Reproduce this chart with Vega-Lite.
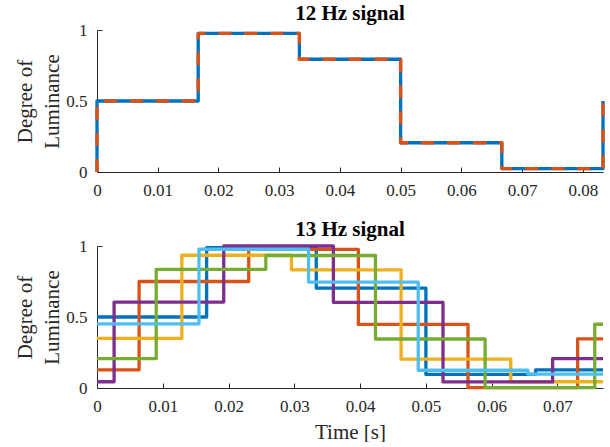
{
  "$schema": "https://vega.github.io/schema/vega-lite/v6.json",
  "padding": {"left": 14, "top": 3, "right": 5, "bottom": 0},
  "spacing": 21,
  "datasets": {
    "s12": [
      {"t": 0, "v": 0},
      {"t": 0, "v": 0.5},
      {"t": 0.016667, "v": 0.976},
      {"t": 0.033333, "v": 0.794},
      {"t": 0.05, "v": 0.206},
      {"t": 0.066667, "v": 0.024},
      {"t": 0.083333, "v": 0.5}
    ],
    "s13": [
      {"s": "A", "t": 0, "v": 0.5},
      {"s": "A", "t": 0.016667, "v": 0.989},
      {"s": "A", "t": 0.033333, "v": 0.703},
      {"s": "A", "t": 0.05, "v": 0.0955},
      {"s": "A", "t": 0.066667, "v": 0.128},
      {"s": "A", "t": 0.076923, "v": 0.128},
      {"s": "B", "t": 0, "v": 0.128},
      {"s": "B", "t": 0.0064, "v": 0.75},
      {"s": "B", "t": 0.023067, "v": 0.976},
      {"s": "B", "t": 0.039733, "v": 0.448},
      {"s": "B", "t": 0.0564, "v": 0.003},
      {"s": "B", "t": 0.073067, "v": 0.346},
      {"s": "B", "t": 0.076923, "v": 0.346},
      {"s": "C", "t": 0, "v": 0.349},
      {"s": "C", "t": 0.0129, "v": 0.935},
      {"s": "C", "t": 0.029567, "v": 0.832},
      {"s": "C", "t": 0.046233, "v": 0.204},
      {"s": "C", "t": 0.0629, "v": 0.044},
      {"s": "C", "t": 0.076923, "v": 0.044},
      {"s": "D", "t": 0, "v": 0.044},
      {"s": "D", "t": 0.0026, "v": 0.605},
      {"s": "D", "t": 0.019267, "v": 1.0},
      {"s": "D", "t": 0.035933, "v": 0.603},
      {"s": "D", "t": 0.0526, "v": 0.043},
      {"s": "D", "t": 0.069267, "v": 0.207},
      {"s": "D", "t": 0.076923, "v": 0.207},
      {"s": "E", "t": 0, "v": 0.207},
      {"s": "E", "t": 0.009, "v": 0.836},
      {"s": "E", "t": 0.025667, "v": 0.933},
      {"s": "E", "t": 0.042333, "v": 0.345},
      {"s": "E", "t": 0.059, "v": 0.003},
      {"s": "E", "t": 0.075667, "v": 0.449},
      {"s": "E", "t": 0.076923, "v": 0.449},
      {"s": "F", "t": 0, "v": 0.452},
      {"s": "F", "t": 0.0155, "v": 0.977},
      {"s": "F", "t": 0.032167, "v": 0.746},
      {"s": "F", "t": 0.048833, "v": 0.125},
      {"s": "F", "t": 0.0655, "v": 0.098},
      {"s": "F", "t": 0.076923, "v": 0.098}
    ]
  },
  "vconcat": [
    {
      "width": 506,
      "height": 142,
      "title": {"text": "12 Hz signal"},
      "data": {"name": "s12"},
      "encoding": {
        "x": {
          "field": "t", "type": "quantitative",
          "scale": {"domain": [0, 0.083333], "nice": false, "zero": false},
          "axis": {"title": null, "values": [0, 0.01, 0.02, 0.03, 0.04, 0.05, 0.06, 0.07, 0.08], "format": "~g"}
        },
        "y": {
          "field": "v", "type": "quantitative",
          "scale": {"domain": [0, 1], "nice": false},
          "axis": {"title": ["Degree of", "Luminance"], "values": [0, 0.5, 1], "format": "~g"}
        }
      },
      "layer": [
        {"mark": {"type": "line", "interpolate": "step-after", "color": "#0072BD", "strokeWidth": 3.3, "strokeJoin": "round"}},
        {"mark": {"type": "line", "interpolate": "step-after", "color": "#D95319", "strokeWidth": 3.3, "strokeDash": [13, 13], "strokeJoin": "round"}}
      ]
    },
    {
      "width": 506,
      "height": 142,
      "title": {"text": "13 Hz signal"},
      "data": {"name": "s13"},
      "mark": {"type": "line", "interpolate": "step-after", "strokeWidth": 3.3, "strokeJoin": "round"},
      "encoding": {
        "x": {
          "field": "t", "type": "quantitative",
          "scale": {"domain": [0, 0.076923], "nice": false, "zero": false},
          "axis": {"title": "Time [s]", "values": [0, 0.01, 0.02, 0.03, 0.04, 0.05, 0.06, 0.07], "format": "~g", "titlePadding": 7}
        },
        "y": {
          "field": "v", "type": "quantitative",
          "scale": {"domain": [0, 1], "nice": false},
          "axis": {"title": ["Degree of", "Luminance"], "values": [0, 0.5, 1], "format": "~g"}
        },
        "color": {
          "field": "s", "type": "nominal",
          "scale": {"domain": ["A", "B", "C", "D", "E", "F"], "range": ["#0072BD", "#D95319", "#EDB120", "#7E2F8E", "#77AC30", "#4DBEEE"]},
          "legend": null
        }
      }
    }
  ],
  "config": {
    "font": "Times New Roman, Liberation Serif, serif",
    "view": {"stroke": null},
    "title": {"font": "Times New Roman, Liberation Serif, serif", "fontSize": 21, "fontWeight": "bold", "color": "#000000", "baseline": "alphabetic", "offset": -3, "anchor": "middle", "frame": "group"},
    "axis": {
      "labelFont": "Times New Roman, Liberation Serif, serif",
      "titleFont": "Times New Roman, Liberation Serif, serif",
      "grid": false,
      "domainColor": "#262626",
      "tickColor": "#262626",
      "labelColor": "#262626",
      "titleColor": "#262626",
      "labelFontSize": 17,
      "titleFontSize": 21,
      "titleFontWeight": "normal",
      "tickSize": -5,
      "labelPadding": 15,
      "labelFlush": false,
      "labelOverlap": false
    },
    "axisY": {"titlePadding": 3, "titleLineHeight": 27}
  }
}
